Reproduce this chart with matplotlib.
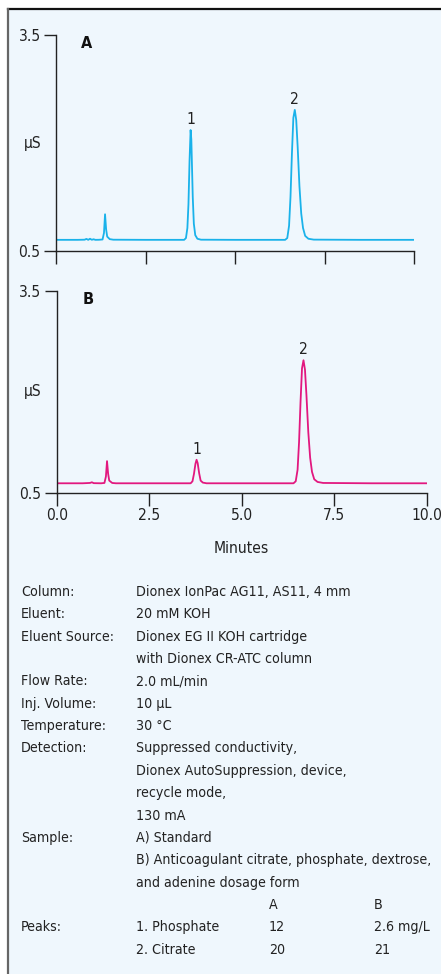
import matplotlib
matplotlib.use("Agg")
import matplotlib.pyplot as plt
from matplotlib import font_manager
from matplotlib.patches import Rectangle
from matplotlib.lines import Line2D

# pick a narrow sans if one is installed, the reference uses a condensed face
narrow = None
stretch = "normal"
for f in font_manager.fontManager.ttflist:
    if "Narrow" in f.name and "Liberation" in f.name:
        narrow = f.name
        break
if narrow is None:
    for f in font_manager.fontManager.ttflist:
        if f.name == "DejaVu Sans" and f.stretch in ("condensed", 500) and f.weight in ("normal", 400):
            narrow = "DejaVu Sans"
            stretch = "condensed"
            break
if narrow is None:
    narrow = "Liberation Sans"
plt.rcParams['font.family'] = [narrow, 'DejaVu Sans']
plt.rcParams['font.stretch'] = stretch
fs = 10.2
fs_ax = 11.2

# Trace A (standard)
time_a = [0.0, 0.6, 0.8, 0.85, 0.9, 0.95, 1.0, 1.05, 1.1, 1.2, 1.30, 1.34, 1.37, 1.40, 1.43,
          1.5, 1.6, 2.5, 3.58, 3.63, 3.67, 3.70, 3.73, 3.76, 3.78, 3.80, 3.82, 3.85, 3.89,
          3.95, 4.05, 5.0, 6.40, 6.46, 6.51, 6.55, 6.59, 6.63, 6.67, 6.71, 6.75, 6.80,
          6.85, 6.90, 6.96, 7.05, 7.2, 8.5, 10.0]
signal_a = [0.655, 0.655, 0.657, 0.668, 0.655, 0.67, 0.656, 0.663, 0.655, 0.656, 0.66, 0.75,
            1.01, 0.80, 0.70, 0.665, 0.657, 0.655, 0.655, 0.68, 0.82, 1.15, 1.75, 2.18, 2.05,
            1.65, 1.25, 0.88, 0.72, 0.67, 0.657, 0.655, 0.655, 0.68, 0.85, 1.25, 1.85, 2.35,
            2.46, 2.32, 1.95, 1.40, 1.02, 0.82, 0.71, 0.67, 0.658, 0.655, 0.655]

# Trace B (anticoagulant dosage form)
time_b = [0.0, 0.7, 0.9, 0.95, 1.0, 1.2, 1.29, 1.33, 1.36, 1.39, 1.42, 1.5, 1.6, 2.5,
          3.62, 3.67, 3.71, 3.75, 3.78, 3.81, 3.85, 3.89, 3.95, 4.05, 5.0,
          6.40, 6.46, 6.51, 6.55, 6.59, 6.63, 6.67, 6.71, 6.75, 6.80, 6.85, 6.90, 6.96,
          7.05, 7.2, 8.5, 10.0]
signal_b = [0.64, 0.64, 0.645, 0.655, 0.642, 0.64, 0.645, 0.74, 0.97, 0.78, 0.68, 0.645,
            0.64, 0.64, 0.64, 0.67, 0.78, 0.93, 0.99, 0.94, 0.79, 0.68, 0.65, 0.64, 0.64,
            0.64, 0.67, 0.84, 1.25, 1.85, 2.35, 2.47, 2.33, 1.95, 1.40, 1.02, 0.81, 0.70,
            0.66, 0.645, 0.64, 0.64]

peak_labels = ["1", "2"]
peak_pos_a = [(3.76, 2.18), (6.67, 2.46)]
peak_pos_b = [(3.78, 0.99), (6.67, 2.47)]

x_ticks = [0.0, 2.5, 5.0, 7.5, 10.0]
y_ticks = [0.5, 3.5]

conditions = [
    ("Column:", "Dionex IonPac AG11, AS11, 4 mm"),
    ("Eluent:", "20 mM KOH"),
    ("Eluent Source:", "Dionex EG II KOH cartridge"),
    ("", "with Dionex CR-ATC column"),
    ("Flow Rate:", "2.0 mL/min"),
    ("Inj. Volume:", "10 µL"),
    ("Temperature:", "30 °C"),
    ("Detection:", "Suppressed conductivity,"),
    ("", "Dionex AutoSuppression, device,"),
    ("", "recycle mode,"),
    ("", "130 mA"),
    ("Sample:", "A) Standard"),
    ("", "B) Anticoagulant citrate, phosphate, dextrose,"),
    ("", "and adenine dosage form"),
]
peak_table = [
    ("", "", "A", "B"),
    ("Peaks:", "1. Phosphate", "12", "2.6 mg/L"),
    ("", "2. Citrate", "20", "21"),
]

blue = "#1ab2ea"
magenta = "#e2187f"
bg = "#eff7fd"
ink = "#222222"
W, H = 441, 974

fig = plt.figure(figsize=(W / 100, H / 100), dpi=100)
fig.patches.append(Rectangle((8 / W, 0), 1, 1 - 9 / H, transform=fig.transFigure,
                             facecolor=bg, edgecolor="none", zorder=-2))
fig.lines.append(Line2D([8 / W, 1], [1 - 9 / H, 1 - 9 / H], transform=fig.transFigure,
                        color="#111111", lw=1.6))
fig.lines.append(Line2D([8 / W, 8 / W], [0, 1 - 9 / H], transform=fig.transFigure,
                        color="#666666", lw=1.6))

ax_a = fig.add_axes([56 / W, 1 - 251 / H, 358 / W, 216 / H])
ax_b = fig.add_axes([56.7 / W, 1 - 492.7 / H, 370 / W, 201.7 / H])

panels = [(ax_a, time_a, signal_a, blue, "A", peak_pos_a),
          (ax_b, time_b, signal_b, magenta, "B", peak_pos_b)]
for ax, t, s, col, name, peaks in panels:
    ax.patch.set_visible(False)
    ax.plot(t, s, color=col, lw=1.3)
    ax.set_xlim(0, 10)
    ax.set_ylim(0.5, 3.5)
    ax.set_xticks(x_ticks)
    ax.set_yticks(y_ticks)
    ax.set_yticklabels(["0.5", "3.5"])
    for side in ["top", "right"]:
        ax.spines[side].set_visible(False)
    for side in ["left", "bottom"]:
        ax.spines[side].set_color(ink)
        ax.spines[side].set_linewidth(1.0)
    ax.tick_params(length=9, width=1.0, color=ink, labelsize=fs_ax, pad=2, labelcolor=ink)
    ax.set_ylabel("µS", fontsize=fs_ax, rotation=0, color=ink, va="center")
    ax.yaxis.set_label_coords(-0.065, 0.5)
    ax.text(0.07, 0.96, name, transform=ax.transAxes, fontsize=fs_ax + 0.4, fontweight="bold",
            va="center", ha="left", color="#111111")
    for lab, (px, py) in zip(peak_labels, peaks):
        ax.annotate(lab, (px, py), xytext=(0, 2), textcoords="offset points",
                    ha="center", va="bottom", fontsize=fs_ax, color=ink)

ax_a.set_xticklabels([])
ax_b.set_xticklabels(["0.0", "2.5", "5.0", "7.5", "10.0"])
ax_b.set_xlabel("Minutes", fontsize=fs_ax, color=ink, labelpad=13)

row_h = 22.35
y0 = 592
for i, (lab, val) in enumerate(conditions):
    y = 1 - (y0 + i * row_h) / H
    fig.text(21 / W, y, lab, fontsize=fs, va="center", ha="left", color=ink)
    fig.text(136 / W, y, val, fontsize=fs, va="center", ha="left", color=ink)
for j, row in enumerate(peak_table):
    y = 1 - (y0 + (len(conditions) + j) * row_h) / H
    for xp, txt in zip([21, 136, 269, 374], row):
        fig.text(xp / W, y, txt, fontsize=fs, va="center", ha="left", color=ink)

fig.savefig("out.png", dpi=100, facecolor="white")
